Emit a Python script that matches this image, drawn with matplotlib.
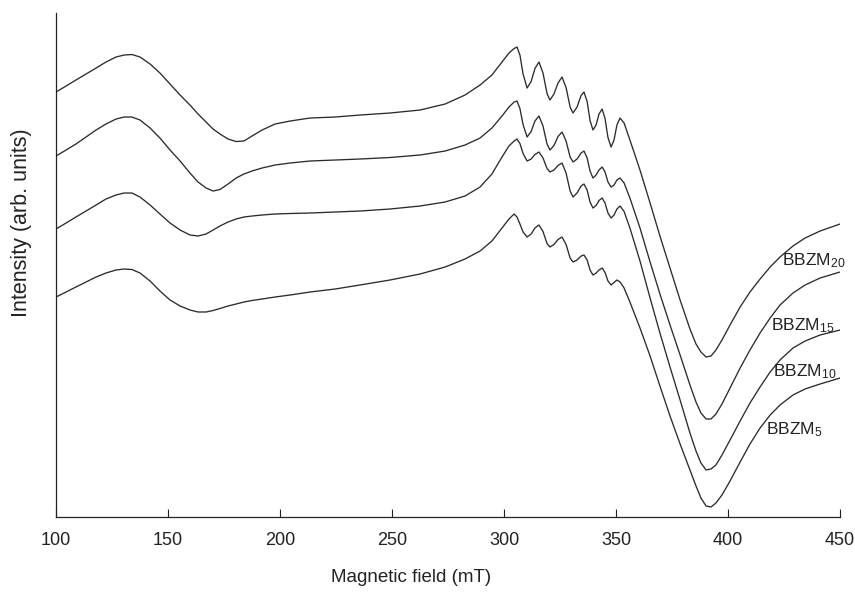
import matplotlib
matplotlib.use('Agg')
from matplotlib import pyplot as plt

# Magnetno polje (mT), zajednicka osa za sve spektre
field = [100.0, 104.5, 108.9, 113.4, 117.9, 122.3, 126.8, 130.4, 133.9, 137.5,
         142.0, 146.4, 150.9, 155.4, 159.8, 163.4, 167.0, 170.1, 173.2, 176.8,
         180.4, 183.9, 187.5, 192.0, 197.8, 204.5, 213.4, 224.6, 235.7, 249.1,
         262.5, 273.7, 282.6, 289.3, 294.6, 299.1, 302.2, 304.5, 305.8, 307.1,
         308.5, 310.3, 312.1, 313.8, 315.6, 317.4, 319.2, 320.5, 322.3, 324.1,
         325.9, 327.7, 329.5, 330.8, 332.6, 334.4, 335.7, 337.1, 338.4, 339.7,
         341.1, 342.4, 343.8, 345.1, 346.4, 347.8, 349.1, 350.4, 351.8, 353.6,
         356.2, 360.7, 365.2, 369.6, 374.1, 378.6, 383.0, 385.7, 387.9, 390.2,
         392.4, 394.6, 397.3, 400.9, 405.4, 409.8, 414.3, 418.8, 423.2, 429.0,
         434.4, 441.1, 450.0]

# Intenzitet (proizvoljne jedinice), spektri su vertikalno pomereni
bbzm_20 = [425, 431, 437, 443, 449, 455, 460, 462, 462.5, 460,
           453, 444, 433, 422, 412, 403, 395, 388, 383, 378,
           375.5, 376, 381, 387, 393, 396, 399, 400, 402, 404,
           407, 413, 422, 432, 442, 455, 464, 468.5, 470, 462,
           443, 429, 435.5, 448.5, 455, 444, 423.5, 417, 423, 434,
           440, 429.5, 410, 404, 410, 421.5, 425, 415.5, 396.5, 387,
           392, 403, 408, 398.5, 379.5, 370, 377, 392, 399, 394,
           377, 347, 314, 281, 249, 217, 188, 173, 165, 160,
           161, 167, 177, 192, 210, 225, 238, 250, 260, 271,
           279, 286, 293]

bbzm_15 = [361, 367, 373, 380, 387, 393, 398, 400, 400, 397,
           389, 379, 367, 356, 344, 335, 329, 326, 327.5, 333,
           339, 343, 346, 349, 352, 354, 356, 357, 358, 359.5,
           362, 366, 372, 379, 389, 401, 410, 415, 416, 408.5,
           392.5, 380, 385.5, 396, 401, 391, 373, 367, 371.5, 380.5,
           385, 376, 360, 355, 358, 364, 366, 359, 346, 339,
           342, 347, 350, 345, 335, 330, 332, 337, 339, 334,
           319, 289, 255, 223, 192, 162, 132, 115, 104, 98,
           98, 103, 113, 129, 149, 167, 184, 199, 212, 224,
           232, 239, 245]

bbzm_10 = [288, 294, 300, 306, 312, 318, 322, 324, 324, 320,
           312, 303, 294, 287, 282, 281, 283, 287, 291, 295,
           298, 300, 301, 302, 303, 303.5, 304, 305, 306, 308,
           311, 315, 321, 330, 343, 360, 371, 376, 378, 373.5,
           363.5, 356, 358, 362.5, 365, 359, 348.5, 345, 347, 351.5,
           354, 344, 326, 320, 324, 331, 333, 327, 315, 309,
           311.5, 316.5, 319, 314, 304, 299, 302, 308, 311, 305.5,
           289, 256, 219, 184, 150, 117, 84, 66, 54, 47,
           48, 52, 62, 77, 96, 114, 130, 145, 157, 169,
           176, 182, 187]

bbzm_5 = [220, 225, 230, 235, 240, 244, 247, 248, 247.5, 244,
          236, 226, 217, 211, 207, 205, 205, 206.5, 208.5, 211,
          213, 215, 216.5, 218, 220, 222, 225, 228, 232, 237,
          243, 250, 258, 266, 276, 289, 298, 303, 300, 293,
          285, 280, 283, 289, 292, 285.5, 273.5, 270, 272.5, 277.5,
          280, 272.5, 259, 255, 257, 261, 262, 257, 247, 242,
          244, 247, 249, 244.5, 236, 232, 234.5, 237, 235, 229,
          215, 189, 161, 131, 101, 73, 47, 31, 19, 11,
          10, 14, 22, 36, 55, 73, 89, 102, 112, 122,
          128, 133, 139]

samples = ['BBZM$_{20}$', 'BBZM$_{15}$', 'BBZM$_{10}$', 'BBZM$_{5}$']
label_x = [424, 419, 420, 417]
label_y = [256, 191, 145, 87]

plt.rcParams['font.family'] = ['Liberation Sans', 'DejaVu Sans']
plt.rcParams['mathtext.fontset'] = 'custom'
plt.rcParams['mathtext.rm'] = 'Liberation Sans'
plt.rcParams['mathtext.it'] = 'Liberation Sans'

fig = plt.figure(figsize=(8.55, 5.92), dpi=100)
ax = fig.add_axes([0.0655, 0.1267, 0.917, 0.8513])

for y in [bbzm_20, bbzm_15, bbzm_10, bbzm_5]:
    ax.plot(field, y, color='#2b2b2b', lw=0.95)

for s, lx, ly in zip(samples, label_x, label_y):
    ax.text(lx, ly, s, fontsize=12.5, color='#222222', va='center', ha='left')

ax.set_xlim(100, 450)
ax.set_ylim(0, 504)
ax.set_xticks(range(100, 451, 50))
ax.set_yticks([])
ax.tick_params(axis='x', direction='in', length=6, width=0.8, pad=11, labelsize=13, colors='#222222')
for side in ['top', 'right']:
    ax.spines[side].set_visible(False)
for side in ['left', 'bottom']:
    ax.spines[side].set_linewidth(0.9)
    ax.spines[side].set_color('#222222')

ax.set_xlabel('Magnetic field (mT)', fontsize=13.5, color='#222222')
ax.set_ylabel('Intensity (arb. units)', fontsize=15.5, color='#222222')
ax.xaxis.set_label_coords(0.453, -0.104)
ax.yaxis.set_label_coords(-0.031, 0.583)

plt.savefig('out.png', dpi=100)
